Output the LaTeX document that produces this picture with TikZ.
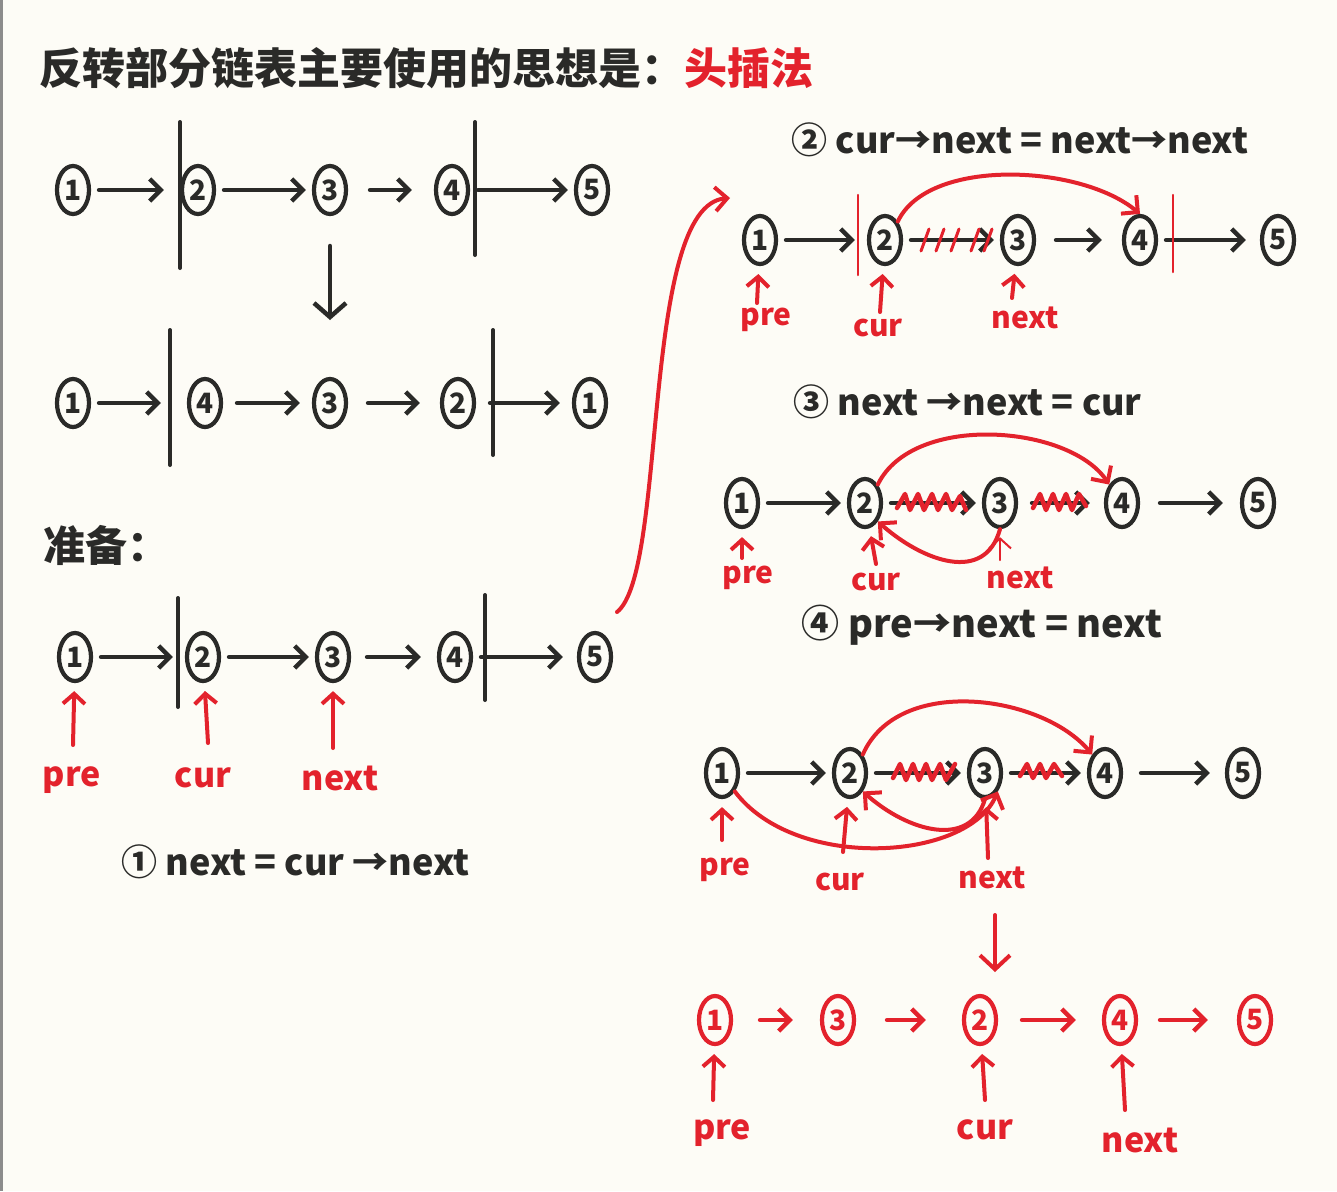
\documentclass[tikz,border=0pt]{standalone}
\usepackage{fontspec}
\setmainfont{Noto Sans CJK SC}
\usetikzlibrary{shapes.geometric,arrows.meta}
\definecolor{ink}{HTML}{2A2A28}
\definecolor{pen}{HTML}{E3222C}
\definecolor{paper}{HTML}{FDFCF6}
\begin{document}
\begin{tikzpicture}[x=1pt,y=-1pt,
  nd/.style={draw=ink,ellipse,line width=4.2pt,minimum width=32pt,minimum height=48pt,inner sep=0pt,text=ink,font=\fontsize{28}{28}\selectfont\bfseries},
  rnd/.style={nd,draw=pen,text=pen},
  lnk/.style={draw=ink,line width=4.5pt,line cap=round,-{Straight Barb[length=11pt,width=22pt]},shorten <=8pt,shorten >=6pt},
  rlnk/.style={lnk,draw=pen},
  bar/.style={draw=ink,line width=4pt,line cap=round},
  rbar/.style={bar,draw=pen,line width=2.5pt},
  ptr/.style={draw=pen,line width=4pt,line cap=round,-{Straight Barb[length=10pt,width=22pt]},shorten >=8pt},
  lab/.style={text=pen,font=\fontsize{34}{34}\selectfont\bfseries},
  slab/.style={text=pen,font=\fontsize{30}{30}\selectfont\bfseries},
  txt/.style={text=ink,font=\fontsize{36}{36}\selectfont\bfseries,anchor=west},
  arc/.style={draw=pen,line width=4pt,line cap=round,-{Straight Barb[length=12pt,width=24pt]}},
  scrib/.style={draw=pen,line width=4.5pt,line cap=round,line join=round}
]
\useasboundingbox (0,0) rectangle (1337,1191);
\fill[paper] (0,0) rectangle (1337,1191);
\fill[black!45] (0,0) rectangle (3,1191);

% title
\node[anchor=west,text=ink,font=\fontsize{43}{43}\selectfont\bfseries] (title) at (36,68)
  {反转部分链表主要使用的思想是：\textcolor{pen}{头插法}};

% ---------- row 1 ----------
\node[nd] (a1) at (73,190) {1};
\node[nd] (a2) at (198,190) {2};
\node[nd] (a3) at (330,190) {3};
\node[nd] (a4) at (452,190) {4};
\node[nd] (a5) at (592,190) {5};
\draw[lnk,shorten >=16pt] (a1) -- (a2);
\draw[lnk] (a2) -- (a3);
\draw[lnk,shorten <=22pt,shorten >=22pt] (a3) -- (a4);
\draw[lnk] (a4) -- (a5);
\draw[bar] (180,122) -- (180,268);
\draw[bar] (475,122) -- (475,255);

% transformation arrow
\coordinate (t1) at (330,246);
\coordinate (t2) at (330,320);
\draw[lnk,shorten <=0pt,shorten >=0pt,-{Straight Barb[length=14pt,width=32pt]}] (t1) -- (t2);

% ---------- row 2 ----------
\node[nd] (b1) at (73,403) {1};
\node[nd] (b2) at (205,403) {4};
\node[nd] (b3) at (330,403) {3};
\node[nd] (b4) at (458,403) {2};
\node[nd] (b5) at (590,403) {1};
\draw[lnk,shorten >=26pt] (b1) -- (b2);
\draw[lnk,shorten <=14pt,shorten >=12pt] (b2) -- (b3);
\draw[lnk,shorten <=20pt,shorten >=20pt] (b3) -- (b4);
\draw[lnk,shorten <=14pt,shorten >=12pt] (b4) -- (b5);
\draw[bar] (170,330) -- (170,465);
\draw[bar] (493,330) -- (493,455);

% ---------- prepare ----------
\node[anchor=west,text=ink,font=\fontsize{42}{42}\selectfont\bfseries] (prep) at (40,545) {准备：};

% ---------- row 3 ----------
\node[nd] (c1) at (75,657) {1};
\node[nd] (c2) at (203,657) {2};
\node[nd] (c3) at (333,657) {3};
\node[nd] (c4) at (455,657) {4};
\node[nd] (c5) at (595,657) {5};
\draw[lnk,shorten >=12pt] (c1) -- (c2);
\draw[lnk] (c2) -- (c3);
\draw[lnk,shorten <=16pt,shorten >=16pt] (c3) -- (c4);
\draw[lnk,shorten >=14pt] (c4) -- (c5);
\draw[bar] (178,598) -- (178,707);
\draw[bar] (485,595) -- (485,700);
\node[lab] (pre3) at (72,780) {pre};
\node[lab] (cur3) at (203,778) {cur};
\node[lab] (nxt3) at (340,778) {next};
\coordinate (p31) at (73,745);
\coordinate (p32) at (208,743);
\coordinate (p33) at (333,748);
\draw[ptr] (p31) -- (c1);
\draw[ptr] (p32) -- (c2);
\draw[ptr] (p33) -- (c3);
\node[txt] (s1) at (118,862) {① next = cur →next};

% big connector to the right column
\coordinate (cs) at (617,612);
\coordinate (ce) at (730,198);
\draw[arc] (cs) .. controls (668,572) and (640,205) .. (ce);

% ---------- step 2 ----------
\node[txt] (s2) at (788,140) {② cur→next = next→next};
\node[nd] (d1) at (760,240) {1};
\node[nd] (d2) at (885,240) {2};
\node[nd] (d3) at (1018,240) {3};
\node[nd] (d4) at (1140,240) {4};
\node[nd] (d5) at (1278,240) {5};
\draw[lnk,shorten >=12pt] (d1) -- (d2);
\draw[lnk] (d2) -- (d3);
\draw[lnk,shorten <=20pt,shorten >=20pt] (d3) -- (d4);
\draw[lnk,shorten >=14pt] (d4) -- (d5);
\draw[rbar] (858,195) -- (858,275);
\draw[rbar] (1173,195) -- (1173,272);
\foreach \x in {925,940,955,975,988} \draw[scrib,line width=3pt] (\x-4,251) -- (\x+4,229);
\draw[arc] (d2.north east) .. controls +(30,-64) and +(-60,-50) .. (d4.north);
\node[slab] (pre4) at (766,320) {pre};
\node[slab] (cur4) at (878,328) {cur};
\node[slab] (nxt4) at (1025,318) {next};
\coordinate (p41) at (757,303);
\coordinate (p42) at (880,312);
\coordinate (p43) at (1012,298);
\draw[ptr] (p41) -- (d1);
\draw[ptr] (p42) -- (d2);
\draw[ptr] (p43) -- (d3);

% ---------- step 3 ----------
\node[txt] (s3) at (790,402) {③ next →next = cur};
\node[nd] (e1) at (742,503) {1};
\node[nd] (e2) at (865,503) {2};
\node[nd] (e3) at (1000,503) {3};
\node[nd] (e4) at (1122,503) {4};
\node[nd] (e5) at (1258,503) {5};
\draw[lnk] (e1) -- (e2);
\draw[lnk] (e2) -- (e3);
\draw[lnk,shorten <=14pt,shorten >=14pt] (e3) -- (e4);
\draw[lnk,shorten <=20pt,shorten >=17pt] (e4) -- (e5);
\draw[scrib] (897,508) -- (905,494) -- (910,510) -- (918,494) -- (924,510) -- (932,494) -- (938,510) -- (946,494) -- (952,510) -- (960,496) -- (966,510);
\draw[scrib] (1033,508) -- (1040,494) -- (1046,510) -- (1053,494) -- (1059,510) -- (1066,494) -- (1072,510) -- (1079,494) -- (1086,506);
\draw[arc] (e2.north east) .. controls +(35,-72) and +(-40,-60) .. (e4.north west);
\draw[arc] (e3.south) .. controls +(-15,55) and +(45,40) .. (e2.south east);
\node[slab] (pre5) at (748,578) {pre};
\node[slab] (cur5) at (876,582) {cur};
\node[slab] (nxt5) at (1020,578) {next};
\coordinate (p51) at (742,558);
\coordinate (p52) at (876,564);
\coordinate (p53) at (1000,560);
\draw[ptr] (p51) -- (e1);
\draw[ptr] (p52) -- (e2);
\draw[ptr,line width=2pt] (p53) -- (e3);

% ---------- step 4 ----------
\node[txt,font=\fontsize{38}{38}\selectfont\bfseries] (s4) at (798,625) {④ pre→next = next};
\node[nd] (f1) at (722,773) {1};
\node[nd] (f2) at (850,773) {2};
\node[nd] (f3) at (985,773) {3};
\node[nd] (f4) at (1105,773) {4};
\node[nd] (f5) at (1243,773) {5};
\draw[lnk] (f1) -- (f2);
\draw[lnk] (f2) -- (f3);
\draw[lnk] (f3) -- (f4);
\draw[lnk,shorten <=18pt,shorten >=15pt] (f4) -- (f5);
\draw[scrib] (893,778) -- (900,764) -- (906,780) -- (913,764) -- (919,780) -- (926,764) -- (932,780) -- (940,764) -- (946,780) -- (955,764);
\draw[scrib] (1020,776) -- (1027,764) -- (1033,778) -- (1040,764) -- (1046,778) -- (1054,764) -- (1062,776);
\draw[arc] (f2.north east) .. controls +(35,-80) and +(-50,-60) .. (f4.north west);
\draw[arc] (f3.south) .. controls +(-15,50) and +(45,40) .. (f2.south east);
\draw[arc] (f1.south east) .. controls +(60,80) and +(-30,70) .. (f3.south east);
\node[slab] (pre6) at (725,870) {pre};
\node[slab] (cur6) at (840,882) {cur};
\node[slab] (nxt6) at (992,878) {next};
\coordinate (p61) at (722,840);
\coordinate (p62) at (843,852);
\coordinate (p63) at (988,858);
\draw[ptr] (p61) -- (f1);
\draw[ptr] (p62) -- (f2);
\draw[ptr] (p63) -- (f3);

% transformation arrow (red)
\coordinate (u1) at (995,915);
\coordinate (u2) at (995,972);
\draw[arc,-{Straight Barb[length=14pt,width=30pt]}] (u1) -- (u2);

% ---------- result ----------
\node[rnd] (g1) at (715,1020) {1};
\node[rnd] (g2) at (838,1020) {3};
\node[rnd] (g3) at (980,1020) {2};
\node[rnd] (g4) at (1120,1020) {4};
\node[rnd] (g5) at (1255,1020) {5};
\draw[rlnk,shorten <=27pt,shorten >=27pt] (g1) -- (g2);
\draw[rlnk,shorten <=31pt,shorten >=36pt] (g2) -- (g3);
\draw[rlnk,shorten <=24pt,shorten >=26pt] (g3) -- (g4);
\draw[rlnk,shorten <=22pt,shorten >=29pt] (g4) -- (g5);
\node[lab] (pre7) at (722,1133) {pre};
\node[lab] (cur7) at (985,1130) {cur};
\node[lab] (nxt7) at (1140,1140) {next};
\coordinate (p71) at (713,1100);
\coordinate (p72) at (985,1100);
\coordinate (p73) at (1125,1110);
\draw[ptr] (p71) -- (g1);
\draw[ptr] (p72) -- (g3);
\draw[ptr] (p73) -- (g4);
\end{tikzpicture}
\end{document}
